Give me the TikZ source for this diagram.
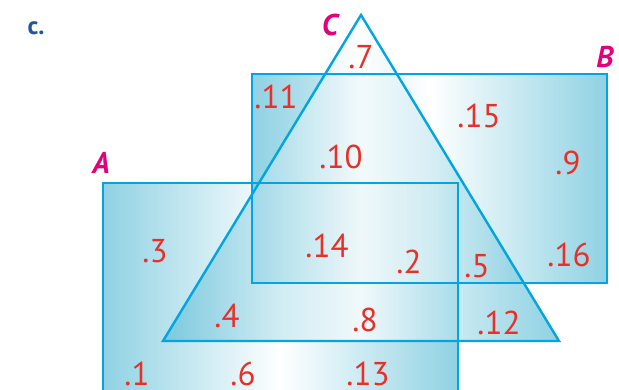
\documentclass[tikz,border=0pt]{standalone}
\usepackage{fontspec}
\setmainfont{PT Sans}
\definecolor{vennEdge}{RGB}{0,165,225}
\definecolor{vennFill}{RGB}{100,192,216}
\definecolor{vennNum}{RGB}{232,48,40}
\definecolor{vennSet}{RGB}{228,0,125}
\definecolor{vennPart}{RGB}{35,85,165}

\tikzset{
  region/.style={left color=vennFill,right color=vennFill,middle color=white,fill opacity=0.72},
  outline/.style={draw=vennEdge,line width=2.4pt,line join=miter},
  num/.style={text=vennNum,inner sep=0pt,font=\fontsize{33}{36}\selectfont},
  setname/.style={text=vennSet,inner sep=0pt,font=\fontsize{30}{34}\selectfont\bfseries\itshape}
}

\begin{document}
\begin{tikzpicture}[x=1pt,y=-1pt]
  \useasboundingbox (0,0) rectangle (619,390);
  \clip (0,0) rectangle (619,390);
  % sets
  \coordinate (apex) at (361,15);
  \coordinate (baseL) at (163,341);
  \coordinate (baseR) at (559,341);
  \shade[region] (103,183) rectangle (458,400);
  \shade[region] (252,74) rectangle (607,283);
  \shade[region] (apex) -- (baseR) -- (baseL) -- cycle;
  \draw[outline] (103,183) rectangle (458,400);
  \draw[outline] (252,74) rectangle (607,283);
  \draw[outline] (apex) -- (baseR) -- (baseL) -- cycle;
  % labels
  \node[text=vennPart,inner sep=0pt,font=\fontsize{25}{28}\selectfont\bfseries] (part) at (36,28) {c.};
  \node[setname] (setA) at (101,163) {A};
  \node[setname] (setB) at (605,57) {B};
  \node[setname] (setC) at (330,25) {C};
  % members
  \foreach \v/\px/\py in {
    7/361/57, 11/276/97, 15/479/116, 10/341/157, 9/568/163,
    3/155/251, 14/327/246, 2/409/262, 5/477/266, 16/569/255,
    4/227/316, 8/365/320, 12/499/323, 1/137/374, 6/243/374, 13/368/374}{
    \node[num] (m\v) at (\px,\py) {.\v};
  }
\end{tikzpicture}
\end{document}
